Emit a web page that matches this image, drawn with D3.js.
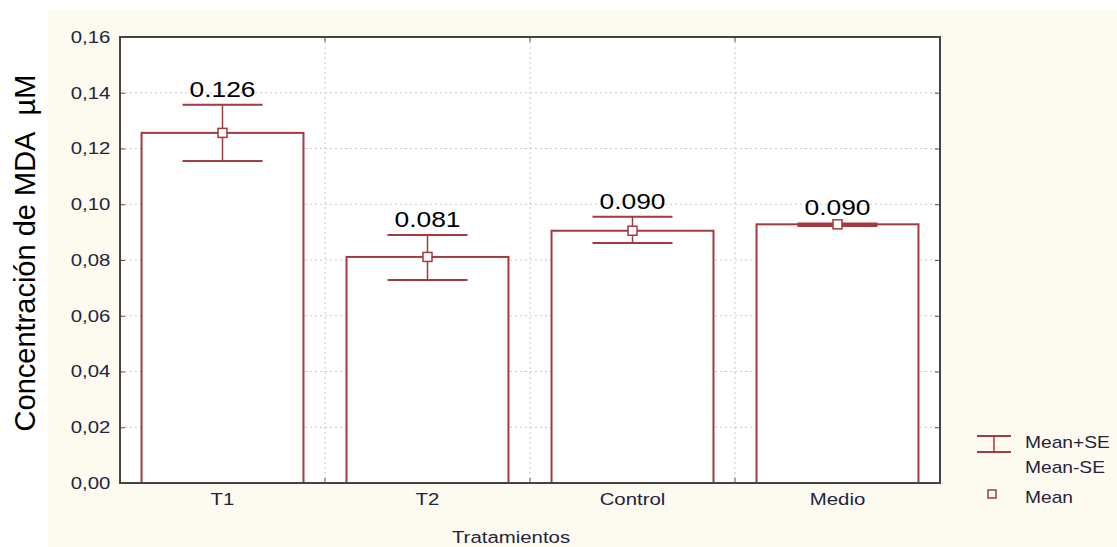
<!DOCTYPE html>
<html>
<head>
<meta charset="utf-8">
<script src="https://cdn.jsdelivr.net/npm/d3@7"></script>
<style>
  body { margin: 0; background: #ffffff; }
  svg { display: block; font-family: "Liberation Sans", Arial, sans-serif; }
</style>
</head>
<body>
<div id="chart"></div>
<script>
const categories = ["T1", "T2", "Control", "Medio"];
const means = [0.1256, 0.0811, 0.0905, 0.0928];
const seUpper = [0.1357, 0.0890, 0.0955, 0.0931];
const seLower = [0.1155, 0.0728, 0.0861, 0.0922];
const valueLabels = ["0.126", "0.081", "0.090", "0.090"];
const yTicks = [0, 0.02, 0.04, 0.06, 0.08, 0.10, 0.12, 0.14, 0.16];

const margin = {top: 37, right: 177, bottom: 64, left: 120};
const W = 1117, H = 547;
const width = W - margin.left - margin.right;
const height = H - margin.top - margin.bottom;

const barColor = "#a33a3f";
const gridColor = "#c8c8c8";
const tickColor = "#24243c";
const stretch = "scale(1.2,1)";   // the source text is a bit wide

const root = d3.select("#chart").append("svg")
  .attr("width", W).attr("height", H);

// beige panel
root.append("rect")
  .attr("x", 48).attr("y", 10)
  .attr("width", W - 48).attr("height", H - 10)
  .attr("fill", "#fdfaf0");

const svg = root.append("g")
  .attr("transform", `translate(${margin.left}, ${margin.top})`);

svg.append("rect")
  .attr("width", width).attr("height", height)
  .attr("fill", "#ffffff");

const xScale = d3.scaleBand().domain(categories).range([0, width]);
const yScale = d3.scaleLinear().domain([0, 0.16]).range([height, 0]);

// grid
svg.append("g")
  .selectAll("line")
  .data(yTicks.slice(1, -1))
  .join("line")
  .attr("x1", 0).attr("x2", width)
  .attr("y1", d => yScale(d)).attr("y2", d => yScale(d))
  .attr("stroke", gridColor).attr("stroke-dasharray", "2,3");

svg.append("g")
  .selectAll("line")
  .data(categories.slice(1))
  .join("line")
  .attr("x1", d => xScale(d)).attr("x2", d => xScale(d))
  .attr("y1", 0).attr("y2", height)
  .attr("stroke", gridColor).attr("stroke-dasharray", "2,3");

// Y axis
const fmt = d => d3.format(".2f")(d).replace(".", ",");
svg.append("g")
  .call(d3.axisLeft(yScale).tickValues(yTicks).tickSize(-5).tickPadding(8).tickFormat(fmt))
  .call(g => {
    g.select(".domain").remove();
    g.selectAll("line").attr("stroke", "#555");
    g.selectAll("text").attr("fill", tickColor).style("font-size", "17px")
     .attr("transform", stretch);
  });

svg.append("g")
  .attr("transform", `translate(${width}, 0)`)
  .call(d3.axisRight(yScale).tickValues(yTicks).tickSize(-5).tickFormat(""))
  .call(g => {
    g.select(".domain").remove();
    g.selectAll("line").attr("stroke", "#555");
  });

// X axis
svg.append("g")
  .attr("transform", `translate(0, ${height})`)
  .call(d3.axisBottom(xScale).tickSize(0).tickPadding(10))
  .call(g => {
    g.select(".domain").remove();
    g.selectAll("text").attr("fill", tickColor).style("font-size", "17px")
     .attr("transform", stretch);
  });

// boundary ticks top/bottom
svg.append("g")
  .selectAll("line")
  .data(categories.slice(1))
  .join("line")
  .attr("x1", d => xScale(d)).attr("x2", d => xScale(d))
  .attr("y1", height).attr("y2", height - 5)
  .attr("stroke", "#555");
svg.append("g")
  .selectAll("line")
  .data(categories.slice(1))
  .join("line")
  .attr("x1", d => xScale(d)).attr("x2", d => xScale(d))
  .attr("y1", 0).attr("y2", 5)
  .attr("stroke", "#555");

// bars
const inner = d3.scaleBand().domain(categories).range([0, width]).paddingInner(0.21).paddingOuter(0.105);
svg.append("g")
  .selectAll("rect")
  .data(categories)
  .join("rect")
  .attr("x", d => inner(d))
  .attr("y", (_, i) => yScale(means[i]))
  .attr("width", inner.bandwidth())
  .attr("height", (_, i) => height - yScale(means[i]))
  .attr("fill", "#ffffff")
  .attr("stroke", barColor)
  .attr("stroke-width", 2);

// frame
svg.append("rect")
  .attr("width", width).attr("height", height)
  .attr("fill", "none")
  .attr("stroke", "#444")
  .attr("stroke-width", 2);

// error bars
const cx = d => xScale(d) + xScale.bandwidth() / 2;
const capHalf = 40;
const err = svg.append("g")
  .selectAll("g")
  .data(categories)
  .join("g");

err.append("line")
  .attr("x1", cx).attr("x2", cx)
  .attr("y1", (_, i) => yScale(seUpper[i]))
  .attr("y2", (_, i) => yScale(seLower[i]))
  .attr("stroke", barColor).attr("stroke-width", 1.5);
err.append("line")
  .attr("x1", d => cx(d) - capHalf).attr("x2", d => cx(d) + capHalf)
  .attr("y1", (_, i) => yScale(seUpper[i])).attr("y2", (_, i) => yScale(seUpper[i]))
  .attr("stroke", barColor).attr("stroke-width", 2);
err.append("line")
  .attr("x1", d => cx(d) - capHalf).attr("x2", d => cx(d) + capHalf)
  .attr("y1", (_, i) => yScale(seLower[i])).attr("y2", (_, i) => yScale(seLower[i]))
  .attr("stroke", barColor).attr("stroke-width", 2);
err.append("rect")
  .attr("x", d => cx(d) - 4.5)
  .attr("y", (_, i) => yScale(means[i]) - 4.5)
  .attr("width", 9).attr("height", 9)
  .attr("fill", "#ffffff")
  .attr("stroke", barColor).attr("stroke-width", 1.5);

err.append("text")
  .attr("transform", (d, i) => `translate(${cx(d)}, ${yScale(seUpper[i]) - 8}) ${stretch}`)
  .attr("text-anchor", "middle")
  .style("font-size", "22px")
  .attr("fill", "#000")
  .text((_, i) => valueLabels[i]);

// axis titles
root.append("text")
  .attr("transform", `translate(35, ${margin.top + height / 2 - 7}) rotate(-90)`)
  .attr("text-anchor", "middle")
  .style("font-size", "29px")
  .attr("fill", "#000")
  .text("Concentración de MDA\u00a0\u00a0µM");

root.append("text")
  .attr("transform", `translate(511, 543) ${stretch}`)
  .attr("text-anchor", "middle")
  .style("font-size", "17px")
  .attr("fill", tickColor)
  .text("Tratamientos");

// legend
const lg = root.append("g");
lg.append("line").attr("x1", 994).attr("x2", 994).attr("y1", 436).attr("y2", 452)
  .attr("stroke", barColor).attr("stroke-width", 1.5);
lg.append("line").attr("x1", 977).attr("x2", 1011).attr("y1", 436).attr("y2", 436)
  .attr("stroke", barColor).attr("stroke-width", 2);
lg.append("line").attr("x1", 977).attr("x2", 1011).attr("y1", 452).attr("y2", 452)
  .attr("stroke", barColor).attr("stroke-width", 2);
lg.append("rect").attr("x", 988).attr("y", 490).attr("width", 8).attr("height", 8)
  .attr("fill", "#fff").attr("stroke", barColor).attr("stroke-width", 1.5);
lg.selectAll("text")
  .data([["Mean+SE", 448], ["Mean-SE", 473], ["Mean", 503]])
  .join("text")
  .attr("transform", d => `translate(1025, ${d[1]}) ${stretch}`)
  .style("font-size", "16px")
  .attr("fill", tickColor)
  .text(d => d[0]);
</script>
</body>
</html>
